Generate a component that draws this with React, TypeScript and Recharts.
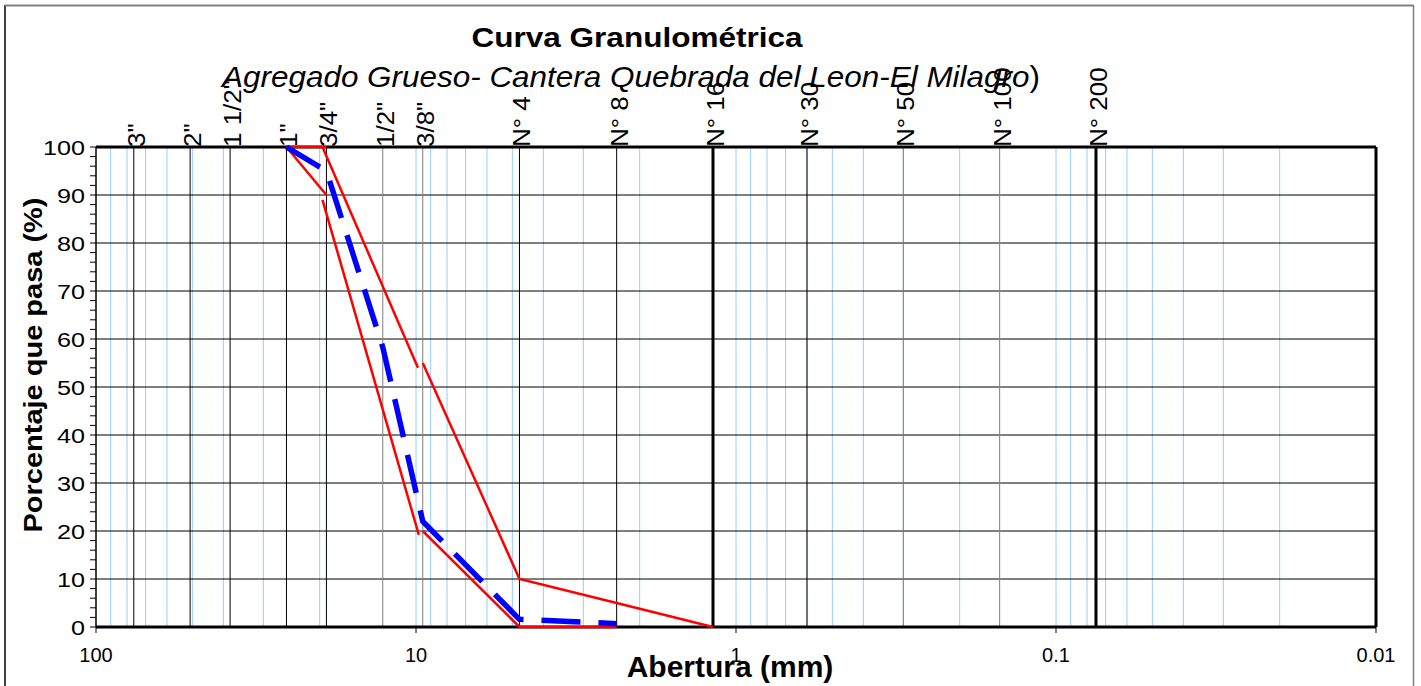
import React from 'react'
import { ComposedChart, Line, XAxis, YAxis, ReferenceLine } from 'recharts'

const FONT = 'Liberation Sans, Arial, sans-serif'

// Tamices (mm) y sus nombres
const sieveSizes = [76.2, 50.8, 38.1, 25.4, 19.05, 12.7, 9.525, 4.75, 2.36, 1.18, 0.6, 0.3, 0.15, 0.075]
const sieveLabels = ['3"', '2"', '1 1/2"', '1"', '3/4"', '1/2"', '3/8"', 'N° 4', 'N° 8', 'N° 16', 'N° 30', 'N° 50', 'N° 100', 'N° 200']
const heavySieves = ['N° 16', 'N° 200']
const graySieves = ['1/2"', '3/8"', 'N° 50', 'N° 100']

// Curva de la muestra
const sampleSizes = [25.4, 19.05, 12.7, 9.525, 4.75, 2.36]
const samplePass = [100, 95, 58.3, 22, 1.6, 0.7]

// Limites del huso (tramos, tal como salen en la hoja)
const upperTopSizes = [25.4, 19.05]
const upperTopPass = [100, 100]
const upperMidSizes = [19.6, 9.86]
const upperMidPass = [100, 54]
const upperLowSizes = [9.525, 4.75, 2.36, 1.18]
const upperLowPass = [55, 10, 5, 0]
const lowerTopSizes = [25.4, 19.05]
const lowerTopPass = [100, 90]
const lowerMidSizes = [19.6, 9.8]
const lowerMidPass = [89, 19.2]
const lowerLowSizes = [9.525, 4.75, 2.36]
const lowerLowPass = [20, 0, 0]

const xTicks = [100, 10, 1, 0.1, 0.01]
const yTicks = [0, 2, 4, 6, 8, 10, 12, 14, 16, 18, 20, 22, 24, 26, 28, 30, 32, 34, 36, 38, 40, 42, 44, 46, 48, 50,
  52, 54, 56, 58, 60, 62, 64, 66, 68, 70, 72, 74, 76, 78, 80, 82, 84, 86, 88, 90, 92, 94, 96, 98, 100]
const yGrid = [10, 20, 30, 40, 50, 60, 70, 80, 90]

const toPoints = (xs: number[], ys: number[]) => xs.map((x, i) => ({ x, y: ys[i] }))

// lineas menores del papel logaritmico
const minorGrid = [0.01, 0.1, 1, 10]
  .flatMap(d => [1, 2, 3, 4, 5, 6, 7, 8, 9].map(m => +(m * d).toPrecision(3)))
  .filter(v => v > 0.01 && v < 100)

function SieveLabel({ viewBox, name }: any) {
  const x = viewBox.x + 11
  const y = viewBox.y
  return (
    <text transform={`translate(${x},${y}) rotate(-90) scale(1.13,1)`} fontSize={23} fontFamily={FONT} fill="#000">
      {name}
    </text>
  )
}

function XTick({ x, y, payload }: any) {
  return (
    <text x={x} y={y + 27} textAnchor="middle" fontSize={20} fontFamily={FONT} fill="#000">
      {String(payload.value)}
    </text>
  )
}

function YTick({ x, y, payload }: any) {
  if (payload.value % 10 !== 0) return null
  return (
    <text transform={`translate(${x},${y}) scale(1.2,1)`} textAnchor="end" dy="0.36em" fontSize={21} fontFamily={FONT} fill="#000">
      {payload.value}
    </text>
  )
}

const limitLines = [
  toPoints(upperTopSizes, upperTopPass),
  toPoints(upperMidSizes, upperMidPass),
  toPoints(upperLowSizes, upperLowPass),
  toPoints(lowerTopSizes, lowerTopPass),
  toPoints(lowerMidSizes, lowerMidPass),
  toPoints(lowerLowSizes, lowerLowPass),
]

export default function App() {
  return (
    <div style={{ position: 'absolute', left: 0, top: 0, width: 1421, height: 686, background: '#fff' }}>
      <ComposedChart width={1421} height={686} margin={{ top: 147, right: 45, bottom: 0, left: 0 }}>
        <XAxis
          dataKey="x"
          type="number"
          scale="log"
          domain={[0.01, 100]}
          allowDataOverflow
          reversed
          ticks={xTicks}
          interval={0}
          height={59}
          tickSize={6}
          tickMargin={2}
          axisLine={{ stroke: '#000', strokeWidth: 3 }}
          tickLine={{ stroke: '#000' }}
          tick={<XTick />}
        />
        <YAxis
          type="number"
          domain={[0, 100]}
          ticks={yTicks}
          interval={0}
          width={96}
          tickSize={6}
          tickMargin={5}
          axisLine={{ stroke: '#000', strokeWidth: 1.5 }}
          tickLine={{ stroke: '#000' }}
          tick={<YTick />}
        />

        {minorGrid.map(v => (
          <ReferenceLine key={'m' + v} x={v} stroke="#99CCFF" strokeWidth={1} zIndex={-60} />
        ))}
        {yGrid.map(v => (
          <ReferenceLine key={'h' + v} y={v} stroke="#000" strokeWidth={1} zIndex={-50} />
        ))}
        {sieveSizes.map((s, i) => {
          const name = sieveLabels[i]
          const heavy = heavySieves.includes(name)
          return (
            <ReferenceLine
              key={'s' + name}
              x={s}
              stroke={graySieves.includes(name) ? '#7f7f7f' : '#000'}
              strokeWidth={heavy ? 3 : 1}
              zIndex={-40}
              label={<SieveLabel name={name} />}
            />
          )
        })}
        <ReferenceLine y={100} stroke="#000" strokeWidth={3} zIndex={-30} />
        <ReferenceLine x={0.01} stroke="#000" strokeWidth={3} zIndex={-30} />

        {limitLines.map((pts, i) => (
          <Line
            key={'lim' + i}
            data={pts}
            dataKey="y"
            type="linear"
            stroke="#FF0000"
            strokeWidth={2.5}
            dot={false}
            activeDot={false}
            isAnimationActive={false}
            zIndex={700}
          />
        ))}
        <Line
          data={toPoints(sampleSizes, samplePass)}
          dataKey="y"
          type="linear"
          stroke="#0000FF"
          strokeWidth={5.5}
          strokeDasharray="39 18"
          dot={false}
          activeDot={false}
          isAnimationActive={false}
          zIndex={710}
        />
      </ComposedChart>

      <svg width={1421} height={686} style={{ position: 'absolute', left: 0, top: 0, pointerEvents: 'none' }}>
        <line x1={5} y1={686} x2={5} y2={5} stroke="#000" strokeWidth={1.5} />
        <line x1={5} y1={5.5} x2={1413.5} y2={5.5} stroke="#808080" strokeWidth={2} />
        <line x1={1413.5} y1={5} x2={1413.5} y2={686} stroke="#808080" strokeWidth={1.5} />
        <text x={637} y={47} textAnchor="middle" fontSize={27} fontWeight="bold" fontFamily={FONT}
          textLength={331} lengthAdjust="spacingAndGlyphs">
          Curva Granulométrica
        </text>
        <text x={222} y={87} fontSize={29} fontFamily={FONT} textLength={818} lengthAdjust="spacingAndGlyphs">
          <tspan fontStyle="italic">Agregado Grueso- Cantera Quebrada del Leon-El Milagro</tspan>
          <tspan>)</tspan>
        </text>
        <text x={730} y={677} textAnchor="middle" fontSize={30} fontWeight="bold" fontFamily={FONT}>
          Abertura (mm)
        </text>
        <text x={42} y={365} transform="rotate(-90 42 365)" textAnchor="middle" fontSize={25} fontWeight="bold"
          fontFamily={FONT} textLength={335} lengthAdjust="spacingAndGlyphs">
          Porcentaje que pasa (%)
        </text>
      </svg>
    </div>
  )
}
